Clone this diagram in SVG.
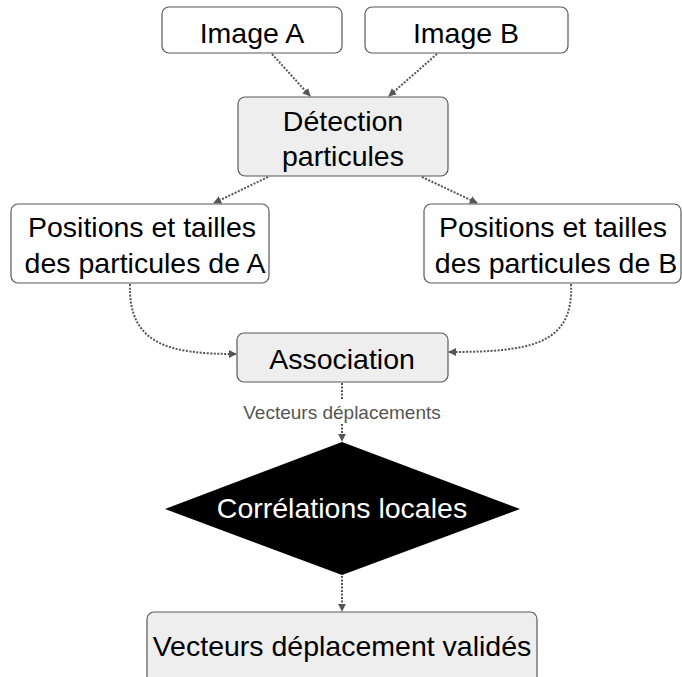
<svg xmlns="http://www.w3.org/2000/svg" width="682" height="677" viewBox="0 0 682 677">
<defs>
<style>
.box{fill:#ffffff;stroke:#595959;stroke-width:1.2}
.proc{fill:#eeeeee;stroke:#595959;stroke-width:1.2}
.t{font-family:"Liberation Sans",Arial,sans-serif;font-size:28.5px;fill:#000;text-anchor:middle}
.w{fill:#ffffff}
.lbl{font-family:"Liberation Sans",Arial,sans-serif;font-size:19px;fill:#555555;text-anchor:middle}
.c{fill:none;stroke:#555555;stroke-width:2;stroke-dasharray:2,1.5}
</style>
<marker id="ah" viewBox="0 0 10 10" refX="9" refY="5" markerWidth="4" markerHeight="4" orient="auto" markerUnits="strokeWidth">
<path d="M0,0 L10,5 L0,10 z" fill="#555555"/>
</marker>
</defs>
<rect width="682" height="677" fill="#ffffff"/>
<g id="connectors">
<path class="c" d="M272,54 L310,96" marker-end="url(#ah)"/>
<path class="c" d="M437,54 L389,96" marker-end="url(#ah)"/>
<path class="c" d="M268,177 L214,203" marker-end="url(#ah)"/>
<path class="c" d="M422,177 L477,203" marker-end="url(#ah)"/>
<path class="c" d="M130,284 C128,345 170,354 236,354" marker-end="url(#ah)"/>
<path class="c" d="M571,284 C574,345 530,352 449,352" marker-end="url(#ah)"/>
<path class="c" d="M342,383 L342,400"/>
<path class="c" d="M342,424 L342,441" marker-end="url(#ah)"/>
<text class="lbl" x="342" y="419">Vecteurs déplacements</text>
<path class="c" d="M342,576 L342,611" marker-end="url(#ah)"/>
</g>
<g id="imageA">
<rect class="box" x="162" y="7" width="180" height="46" rx="7"/>
<text class="t" x="252" y="43">Image A</text>
</g>
<g id="imageB">
<rect class="box" x="365" y="7" width="203" height="46" rx="7"/>
<text class="t" x="466" y="43">Image B</text>
</g>
<g id="detection">
<rect class="proc" x="238" y="97" width="210" height="79" rx="7"/>
<text class="t" x="343" y="131">Détection</text>
<text class="t" x="343" y="166">particules</text>
</g>
<g id="positionsA">
<rect class="box" x="11" y="204" width="258" height="79" rx="7"/>
<text class="t" x="142" y="237">Positions et tailles</text>
<text class="t" x="145" y="273">des particules de A</text>
</g>
<g id="positionsB">
<rect class="box" x="424" y="204" width="257" height="79" rx="7"/>
<text class="t" x="553" y="237">Positions et tailles</text>
<text class="t" x="556" y="273">des particules de B</text>
</g>
<g id="association">
<rect class="proc" x="237" y="333" width="211" height="49" rx="7"/>
<text class="t" x="342" y="369">Association</text>
</g>
<g id="correlations">
<polygon points="342,442 520,509 342,575 165,509" fill="#000000"/>
<text class="t w" x="342" y="518">Corrélations locales</text>
</g>
<g id="valides">
<rect class="proc" x="147" y="612" width="390" height="80" rx="7"/>
<text class="t" x="342" y="656">Vecteurs déplacement validés</text>
</g>
</svg>
